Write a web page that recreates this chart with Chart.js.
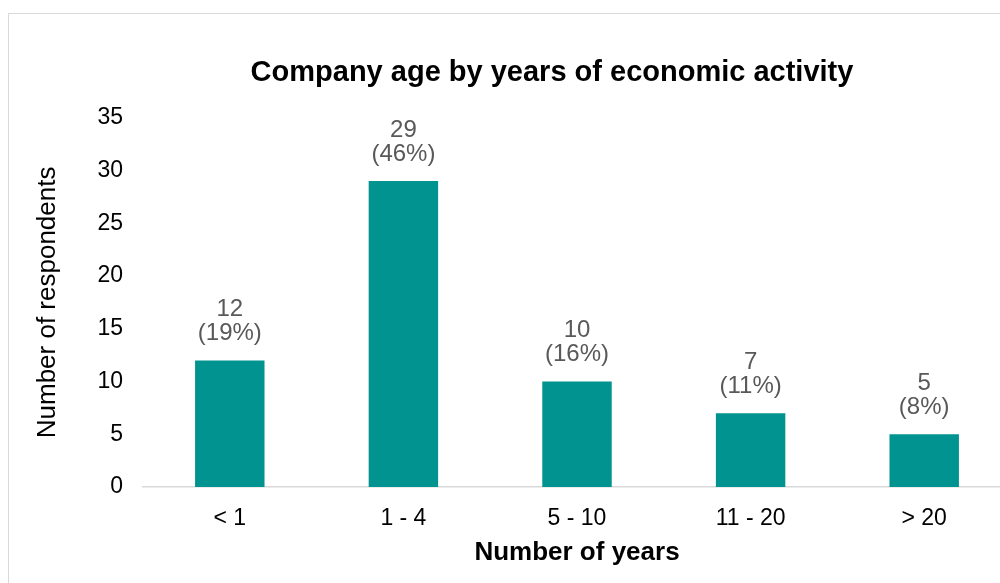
<!DOCTYPE html>
<html lang="en">
<head>
    <meta charset="UTF-8">
    <title>Company age</title>
    <script src="https://cdn.jsdelivr.net/npm/chart.js"></script>
    <style>
        body { margin: 0; background: #fff; overflow: hidden; }
        #frame {
            position: absolute;
            left: 8px;
            top: 13px;
            width: 1010px;
            height: 600px;
            border: 1px solid #d9d9d9;
        }
        #wrap {
            position: absolute;
            left: 0;
            top: 0;
            width: 1000px;
            height: 583px;
            overflow: hidden;
        }
    </style>
</head>
<body>
    <div id="frame"></div>
    <div id="wrap">
        <canvas id="myChart" width="1104" height="583"></canvas>
    </div>

<script>
    const categories = ['< 1', '1 - 4', '5 - 10', '11 - 20', '> 20'];
    const respondents = [12, 29, 10, 7, 5];
    const yTicks = [0, 5, 10, 15, 20, 25, 30, 35];

    const total = respondents.reduce((a, b) => a + b, 0);
    const FONT = '"Liberation Sans", Arial, sans-serif';

    // value + share written above each bar
    const barLabels = {
        id: 'barLabels',
        afterDatasetsDraw(chart) {
            const ctx = chart.ctx;
            const meta = chart.getDatasetMeta(0);
            ctx.save();
            ctx.fillStyle = '#595959';
            ctx.font = '24px ' + FONT;
            ctx.textAlign = 'center';
            ctx.textBaseline = 'middle';
            meta.data.forEach((bar, i) => {
                const v = respondents[i];
                const pct = Math.round(v / total * 100);
                ctx.fillText('(' + pct + '%)', bar.x, bar.y - 27);
                ctx.fillText(String(v), bar.x, bar.y - 51);
            });
            ctx.restore();
        }
    };

    // let the title span the whole canvas, ignoring the right padding
    const wideTitle = {
        id: 'wideTitle',
        afterLayout(chart) {
            const t = chart.titleBlock;
            if (t) {
                t.left = 0;
                t.right = chart.width;
                t.width = chart.width;
            }
        }
    };

    var ctx = document.getElementById('myChart').getContext('2d');
    var myChart = new Chart(ctx, {
        type: 'bar',
        data: {
            labels: categories,
            datasets: [{
                label: 'Number of respondents',
                data: respondents,
                backgroundColor: '#00938f',
                borderWidth: 0,
                categoryPercentage: 1,
                barPercentage: 0.40
            }]
        },
        options: {
            responsive: false,
            animation: false,
            layout: { padding: { left: 0, right: 93, top: 0, bottom: 0 } },
            plugins: {
                legend: { display: false },
                tooltip: { enabled: false },
                title: {
                    display: true,
                    text: 'Company age by years of economic activity',
                    color: '#000',
                    font: { family: FONT, size: 29, weight: 'bold' },
                    padding: { top: 56, bottom: 27 }
                }
            },
            scales: {
                x: {
                    grid: { display: false, drawTicks: false },
                    border: { display: true, color: '#d9d9d9', width: 1.5 },
                    ticks: {
                        color: '#000',
                        padding: 18,
                        font: { family: FONT, size: 23 }
                    },
                    title: {
                        display: true,
                        text: 'Number of years',
                        color: '#000',
                        font: { family: FONT, size: 26, weight: 'bold' },
                        padding: { top: 0, bottom: 15 }
                    },
                    afterFit: (s) => { s.height = 96; }
                },
                y: {
                    min: 0,
                    max: 35,
                    afterBuildTicks: (s) => { s.ticks = yTicks.map(v => ({ value: v })); },
                    grid: { display: false, drawTicks: false },
                    border: { display: false },
                    ticks: {
                        color: '#000',
                        padding: 20,
                        font: { family: FONT, size: 23 }
                    },
                    title: {
                        display: true,
                        text: 'Number of respondents',
                        color: '#000',
                        font: { family: FONT, size: 26 },
                        padding: { top: 32, bottom: 0 }
                    },
                    afterFit: (s) => { s.width = 143; }
                }
            }
        },
        plugins: [barLabels, wideTitle]
    });
</script>
</body>
</html>
